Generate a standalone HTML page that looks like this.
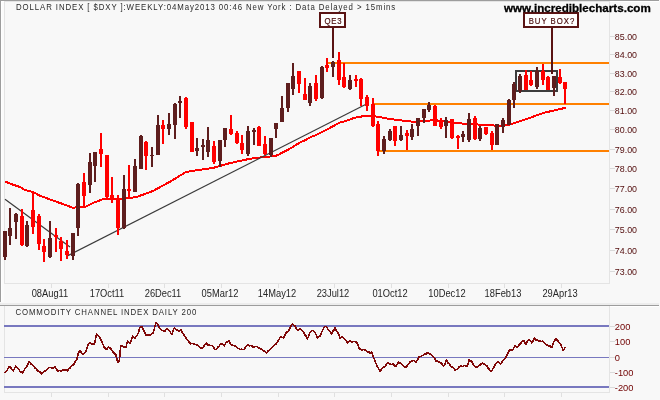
<!DOCTYPE html>
<html><head><meta charset="utf-8"><title>Dollar Index Weekly</title>
<style>
html,body{margin:0;padding:0;width:660px;height:400px;overflow:hidden;background:#f8f8f8}
svg{display:block}
text{font-family:"Liberation Sans",Arial,sans-serif}
</style></head><body>
<svg width="660" height="400" viewBox="0 0 660 400" shape-rendering="crispEdges">
<rect x="0" y="0" width="660" height="400" fill="#f8f8f8"/>
<rect x="0" y="0" width="659" height="1" fill="#9d9d9d"/>
<rect x="0" y="0" width="1" height="302" fill="#9d9d9d"/>
<rect x="1" y="1" width="658" height="1" fill="#ffffff"/>
<rect x="1" y="1" width="1" height="301" fill="#ffffff"/>
<rect x="2" y="2" width="2" height="300" fill="#fbfbfb"/>
<rect x="4" y="1" width="606" height="1" fill="#e4e4e4"/>
<rect x="4" y="1" width="1" height="283" fill="#e4e4e4"/>
<rect x="609" y="1" width="1" height="283" fill="#e4e4e4"/>
<rect x="4" y="283" width="606" height="1" fill="#e4e4e4"/>
<rect x="0" y="303" width="659" height="2" fill="#ededed"/>
<rect x="0" y="305" width="659" height="1" fill="#9d9d9d"/>
<rect x="610" y="306" width="49" height="1" fill="#ffffff"/>
<rect x="4" y="306" width="1" height="87" fill="#e4e4e4"/>
<rect x="609" y="306" width="1" height="87" fill="#e4e4e4"/>
<rect x="4" y="392" width="606" height="1" fill="#e4e4e4"/>
<rect x="51" y="284" width="1" height="4" fill="#e0e0e0"/>
<rect x="51" y="393" width="1" height="4" fill="#e0e0e0"/>
<rect x="108" y="284" width="1" height="4" fill="#e0e0e0"/>
<rect x="108" y="393" width="1" height="4" fill="#e0e0e0"/>
<rect x="164" y="284" width="1" height="4" fill="#e0e0e0"/>
<rect x="164" y="393" width="1" height="4" fill="#e0e0e0"/>
<rect x="221" y="284" width="1" height="4" fill="#e0e0e0"/>
<rect x="221" y="393" width="1" height="4" fill="#e0e0e0"/>
<rect x="278" y="284" width="1" height="4" fill="#e0e0e0"/>
<rect x="278" y="393" width="1" height="4" fill="#e0e0e0"/>
<rect x="334" y="284" width="1" height="4" fill="#e0e0e0"/>
<rect x="334" y="393" width="1" height="4" fill="#e0e0e0"/>
<rect x="391" y="284" width="1" height="4" fill="#e0e0e0"/>
<rect x="391" y="393" width="1" height="4" fill="#e0e0e0"/>
<rect x="448" y="284" width="1" height="4" fill="#e0e0e0"/>
<rect x="448" y="393" width="1" height="4" fill="#e0e0e0"/>
<rect x="504" y="284" width="1" height="4" fill="#e0e0e0"/>
<rect x="504" y="393" width="1" height="4" fill="#e0e0e0"/>
<rect x="561" y="284" width="1" height="4" fill="#e0e0e0"/>
<rect x="561" y="393" width="1" height="4" fill="#e0e0e0"/>
<rect x="610" y="271" width="5" height="1" fill="#dadada"/>
<rect x="610" y="250" width="5" height="1" fill="#dadada"/>
<rect x="610" y="229" width="5" height="1" fill="#dadada"/>
<rect x="610" y="209" width="5" height="1" fill="#dadada"/>
<rect x="610" y="188" width="5" height="1" fill="#dadada"/>
<rect x="610" y="168" width="5" height="1" fill="#dadada"/>
<rect x="610" y="149" width="5" height="1" fill="#dadada"/>
<rect x="610" y="129" width="5" height="1" fill="#dadada"/>
<rect x="610" y="110" width="5" height="1" fill="#dadada"/>
<rect x="610" y="91" width="5" height="1" fill="#dadada"/>
<rect x="610" y="73" width="5" height="1" fill="#dadada"/>
<rect x="610" y="54" width="5" height="1" fill="#dadada"/>
<rect x="610" y="36" width="5" height="1" fill="#dadada"/>
<rect x="610" y="326" width="5" height="1" fill="#dadada"/>
<rect x="610" y="341" width="5" height="1" fill="#dadada"/>
<rect x="610" y="357" width="5" height="1" fill="#dadada"/>
<rect x="610" y="372" width="5" height="1" fill="#dadada"/>
<rect x="610" y="387" width="5" height="1" fill="#dadada"/>
<rect x="4" y="325" width="605" height="2" fill="#7878bf"/>
<rect x="4" y="357" width="605" height="1" fill="#7878bf"/>
<rect x="4" y="386" width="605" height="2" fill="#7878bf"/>
<polyline points="5,373 6.7,371 7.95,368.65 9.2,366.8 10.45,367.31 11.7,368.8 13.3,371 14.55,368.71 15.8,366 17.5,367.7 18.75,369.1 20,371.7 21.25,372.25 22.5,372.7 23.75,370.56 25,368.8 26.7,367.2 27.95,363.83 29.2,361.7 30.8,363.8 32.05,364.66 33.3,365.5 35,368 36.1,368.45 37.2,370.11 38.3,371.3 39.43,371.53 40.57,372.39 41.7,373.8 42.95,372.44 44.2,371.3 45.45,370.96 46.7,369.7 47.8,368.34 48.9,367.65 50,367.2 51.25,367.93 52.5,368.3 53.75,368.13 55,366.7 56.25,368.96 57.5,371 58.75,370.61 60,370.5 61.25,371.04 62.5,369.62 63.75,370.63 65,370 66.25,370.21 67.5,371 68.75,369 70,368 71.1,366.36 72.2,365.53 73.3,364.7 74.43,363.48 75.57,360.92 76.7,359.7 78.3,353 80,350.5 81.1,352.01 82.2,353.49 83.3,354.7 84.55,352.82 85.8,351.3 86.93,348.6 88.07,345.15 89.2,343 90.45,342.78 91.7,343.8 92.95,343.84 94.2,344.7 95.45,339.5 96.7,333.8 97.8,335.1 98.9,336.34 100,338 101.7,341.3 102.95,344.37 104.2,347.2 105.45,348.38 106.7,349.7 108.3,347.2 109.55,347.72 110.8,348.8 112.05,350.91 113.3,352.2 114.55,353.73 115.8,354.7 117.5,361.7 119.2,361.7 120.8,345.5 122.05,345.74 123.3,346.7 124.55,347.3 125.8,347.7 127.5,341.3 128.75,342.59 130,343.8 131.25,340.58 132.5,336.3 133.75,337.47 135,338 136.25,336.05 137.5,334.7 138.75,331.62 140,327.2 141.7,326.3 143.3,329.7 144.55,332.07 145.8,335.5 147.05,334.99 148.3,334.7 149.55,335.06 150.8,334.7 152.05,333.36 153.3,333 154.55,327.98 155.8,323 157.05,323.6 158.3,325.5 159.55,327.84 160.8,329.7 161.93,330.5 163.07,330.67 164.2,331 165.3,330.79 166.4,329.27 167.5,328.8 168.75,330.32 170,331.3 171.7,334.7 172.95,331.48 174.2,328 175.45,328.96 176.7,329.7 177.95,330.44 179.2,331.3 180.8,329.7 182.05,332.23 183.3,333.8 184.55,336.37 185.8,337.7 187.05,339.31 188.3,341 189.55,342.63 190.8,343.8 192.05,343.18 193.3,343.8 194.55,344.33 195.8,344.3 197.05,345.11 198.3,345.5 199.55,347.44 200.8,348 202.05,348.05 203.3,347.2 204.37,345.5 205.43,344.24 206.5,343 207.4,344.49 208.3,345.5 209.43,344.83 210.57,345.45 211.7,345.5 212.8,346.44 213.9,347.76 215,349.7 216.7,349.3 217.8,347.15 218.9,346.61 220,344.7 221.25,343.73 222.5,343.8 224.2,346 225.8,343 226.93,341.98 228.07,341.51 229.2,341 230.45,343.77 231.7,345.5 232.72,345.04 233.75,345.68 234.78,345.94 235.8,346 236.93,347.47 238.07,348.31 239.2,348.8 240.3,349.61 241.4,349.09 242.5,349.7 244.2,349.3 245.3,347.65 246.4,346.04 247.5,344.7 248.6,345.5 249.7,345.87 250.8,345.5 252.05,346.11 253.3,347.7 255,346.3 256.1,346.31 257.2,346.86 258.3,347.7 259.43,347.86 260.57,348.75 261.7,349.3 262.95,350.27 264.2,351 265.45,351.67 266.7,353 267.95,351.06 269.2,350.5 270.45,348.99 271.7,347.7 272.8,346.52 273.9,345.79 275,344.7 276.1,343.93 277.2,342.17 278.3,340.5 279.55,338.42 280.8,336.3 282.05,337.31 283.3,338 284.43,336.31 285.57,333.51 286.7,332.2 287.95,331.51 289.2,329.7 290.8,326.3 292.5,323.8 293.75,325.29 295,326 296.25,328.52 297.5,330 298.75,329.82 300,328.8 301.25,329.65 302.5,330.8 303.75,332.76 305,335 306.25,336.34 307.5,338.8 308.75,335.69 310,332.2 311.7,330.5 312.95,330.29 314.2,331.3 315.3,332.93 316.4,335.36 317.5,338 318.75,336.68 320,336.3 321.25,333.18 322.5,330.5 323.75,327.77 325,326.3 326.1,326.73 327.2,328.08 328.3,329.7 329.43,330.51 330.57,332.24 331.7,333.8 332.8,331.2 333.9,330.46 335,328 336.25,330.26 337.5,332.2 338.75,334.61 340,338 341.25,337 342.5,336.7 343.75,337.99 345,339.7 346.25,341.01 347.5,342.7 348.75,341.32 350,341 351.1,341.59 352.2,341.89 353.3,341.3 354.43,341.55 355.57,341.88 356.7,342.2 357.95,344.92 359.2,348.8 360.45,348.84 361.7,350 362.95,349.63 364.2,349.7 365.45,350.17 366.7,351.3 367.8,352.33 368.9,351.96 370,353 371.7,352.2 373.3,357.2 374.55,359.43 375.8,363 377.05,366.13 378.3,368 380,371 381.1,369.94 382.2,368.31 383.3,367.7 384.55,366.66 385.8,365.5 387.05,363.59 388.3,363 389.55,363.69 390.8,364.3 392.05,364.72 393.3,363.8 394.55,365.76 395.8,366.7 397.05,364.72 398.3,362.2 399.4,362.52 400.5,363.5 401.5,363.96 402.5,364.8 403.6,365.78 404.7,367.7 406.1,366.98 407.5,365.5 408.75,363.75 410,361.9 411.1,361.82 412.2,360.73 413.3,360.5 414.55,360.96 415.8,362.2 416.93,360.67 418.07,358.95 419.2,356.3 420.3,356.53 421.4,356.2 422.5,355.5 423.75,355.1 425,353.8 426.1,353.87 427.2,352.88 428.3,353 429.55,353.67 430.8,354.3 432.05,355.3 433.3,356.7 434.55,358.19 435.8,361 437.05,360.69 438.3,361.7 439.55,361.89 440.8,362.7 441.77,363.56 442.73,365.37 443.7,366.3 445,363.79 446.3,360 447.27,361.19 448.23,363.15 449.2,363.8 450.3,365.62 451.4,366.7 452.5,367.2 453.75,368.41 455,370 456.25,369.46 457.5,369.7 458.6,367.62 459.7,366.3 461.1,366.08 462.5,366.7 463.75,365.69 465,365.5 466.25,365.92 467.5,366 469.2,359.7 470.45,361.06 471.7,361.3 472.95,363.88 474.2,365.5 475.45,366.57 476.7,367.7 477.95,366.81 479.2,365.5 480.45,364.82 481.7,363.3 482.95,363.22 484.2,364.3 485.45,365.12 486.7,365.5 487.95,367.97 489.2,369.3 490.25,370.9 491.3,371.7 492.3,370.2 493.3,368 494.55,365.87 495.8,363.8 497.05,362.3 498.3,361.7 499.55,363.15 500.8,363.8 502.05,361.92 503.3,360.5 504.55,359.27 505.8,357.2 507.05,355.26 508.3,352 510,349.7 511.25,349.95 512.5,350.5 513.75,347.86 515,345.5 516.7,347.2 517.95,346.58 519.2,344.7 520.45,343.76 521.7,342.2 522.7,340.89 523.7,340.5 524.75,342.08 525.8,344.7 527.5,341.3 529.2,339.3 530.45,340.66 531.7,343 532.95,341.07 534.2,338 535.45,339.68 536.7,340.5 537.8,340.17 538.9,341.29 540,341 541.25,341.67 542.5,341 543.75,342.62 545,343.8 546.25,344.44 547.5,345.5 548.75,345.82 550,346 551.7,347.7 553.3,342.7 554.3,340.88 555.3,339.42 556.3,338.8 557.3,340.71 558.3,341.3 559.55,343.21 560.8,344.7 562.05,347.64 563.3,350.5 564.3,349.21 565.3,346.7" fill="none" stroke="#800808" stroke-width="1.6" stroke-linejoin="round"/>
<rect x="328" y="62" width="281" height="2" fill="#ff8000"/>
<rect x="373" y="103" width="236" height="2" fill="#ff8000"/>
<rect x="379" y="150" width="230" height="2" fill="#ff8000"/>
<polyline points="5,181.5 13,184.7 20,187 25,190 33,192 40,195.7 52,200.2 64,204.4 72.7,207.8 80,206.8 86,206.6 93.3,202.9 102.4,199.3 117.6,199.3 120,199.2 136.5,197 153,191 169.5,182 186,172 196.5,170.3 213,167.9 229.5,163.2 246,159.6 256.5,157.8 272.5,156.3 277.5,155.3 282.5,152.5 288.75,149.4 295,145.6 300,142.5 305,140.3 310,137.4 317.5,134.4 325,130.6 332.5,126.5 340,122.4 346,121 354,117.9 363.2,116.2 372.3,116 381.4,117.4 390.5,119.1 399.5,120.3 403,120.6 411.3,121.5 419.5,121.5 427.8,120.6 436,120.3 446.5,121.7 463,123.6 479.5,124.6 496.5,125.7 503.5,125.7 511,124.2 529.5,118 537.8,114.8 546,112.3 552.9,110.7 566,107.7" fill="none" stroke="#ff0000" stroke-width="2" stroke-linejoin="round"/>
<line x1="5" y1="199.3" x2="70" y2="247" stroke="#3a3a3a" stroke-width="1.2" shape-rendering="auto"/>
<line x1="68" y1="255.6" x2="365.5" y2="104.5" stroke="#3a3a3a" stroke-width="1.2" shape-rendering="auto"/>
<rect x="516" y="71" width="41" height="20" fill="none" stroke="#3c3c3c" stroke-width="2"/>
<rect x="332" y="28" width="2" height="30" fill="#5a1414"/>
<rect x="551" y="28" width="2" height="46" fill="#5a1414"/>
<rect x="4" y="231" width="2" height="29" fill="#5e1e1e"/><rect x="3" y="231" width="4" height="26" fill="#5e1e1e"/><rect x="9" y="208" width="2" height="37" fill="#5e1e1e"/><rect x="8" y="228" width="4" height="8" fill="#5e1e1e"/><rect x="15" y="213" width="2" height="26" fill="#5e1e1e"/><rect x="14" y="214" width="4" height="8" fill="#5e1e1e"/><rect x="21" y="209" width="2" height="37" fill="#ff0000"/><rect x="20" y="216" width="4" height="29" fill="#ff0000"/><rect x="26" y="221" width="2" height="26" fill="#5e1e1e"/><rect x="25" y="225" width="4" height="21" fill="#5e1e1e"/><rect x="32" y="192" width="2" height="42" fill="#ff0000"/><rect x="31" y="210" width="4" height="17" fill="#ff0000"/><rect x="38" y="214" width="2" height="36" fill="#ff0000"/><rect x="37" y="216" width="4" height="28" fill="#ff0000"/><rect x="43" y="239" width="2" height="23" fill="#ff0000"/><rect x="42" y="246" width="4" height="6" fill="#ff0000"/><rect x="49" y="221" width="2" height="37" fill="#5e1e1e"/><rect x="48" y="238" width="4" height="19" fill="#5e1e1e"/><rect x="55" y="228" width="2" height="24" fill="#ff0000"/><rect x="54" y="235" width="4" height="2" fill="#ff0000"/><rect x="60" y="237" width="2" height="24" fill="#ff0000"/><rect x="59" y="241" width="4" height="8" fill="#ff0000"/><rect x="66" y="240" width="2" height="19" fill="#ff0000"/><rect x="65" y="251" width="4" height="4" fill="#ff0000"/><rect x="72" y="233" width="2" height="27" fill="#5e1e1e"/><rect x="71" y="233" width="4" height="23" fill="#5e1e1e"/><rect x="77" y="183" width="2" height="53" fill="#5e1e1e"/><rect x="76" y="184" width="4" height="44" fill="#5e1e1e"/><rect x="83" y="173" width="2" height="34" fill="#ff0000"/><rect x="82" y="182" width="4" height="14" fill="#ff0000"/><rect x="89" y="153" width="2" height="40" fill="#5e1e1e"/><rect x="88" y="162" width="4" height="23" fill="#5e1e1e"/><rect x="94" y="152" width="2" height="30" fill="#5e1e1e"/><rect x="93" y="152" width="4" height="14" fill="#5e1e1e"/><rect x="100" y="133" width="2" height="34" fill="#ff0000"/><rect x="99" y="149" width="4" height="5" fill="#ff0000"/><rect x="106" y="155" width="2" height="43" fill="#ff0000"/><rect x="105" y="155" width="4" height="42" fill="#ff0000"/><rect x="111" y="177" width="2" height="26" fill="#ff0000"/><rect x="110" y="195" width="4" height="5" fill="#ff0000"/><rect x="117" y="195" width="2" height="40" fill="#ff0000"/><rect x="116" y="198" width="4" height="30" fill="#ff0000"/><rect x="123" y="175" width="2" height="54" fill="#5e1e1e"/><rect x="122" y="189" width="4" height="39" fill="#5e1e1e"/><rect x="128" y="165" width="2" height="33" fill="#ff0000"/><rect x="127" y="189" width="4" height="2" fill="#ff0000"/><rect x="134" y="159" width="2" height="33" fill="#5e1e1e"/><rect x="133" y="166" width="4" height="26" fill="#5e1e1e"/><rect x="140" y="135" width="2" height="34" fill="#5e1e1e"/><rect x="139" y="136" width="4" height="33" fill="#5e1e1e"/><rect x="145" y="141" width="2" height="29" fill="#ff0000"/><rect x="144" y="142" width="4" height="14" fill="#ff0000"/><rect x="151" y="147" width="2" height="20" fill="#5e1e1e"/><rect x="150" y="155" width="4" height="1" fill="#5e1e1e"/><rect x="157" y="115" width="2" height="40" fill="#5e1e1e"/><rect x="156" y="125" width="4" height="30" fill="#5e1e1e"/><rect x="162" y="120" width="2" height="24" fill="#ff0000"/><rect x="161" y="125" width="4" height="4" fill="#ff0000"/><rect x="168" y="113" width="2" height="22" fill="#5e1e1e"/><rect x="167" y="124" width="4" height="5" fill="#5e1e1e"/><rect x="174" y="103" width="2" height="36" fill="#5e1e1e"/><rect x="173" y="104" width="4" height="21" fill="#5e1e1e"/><rect x="179" y="96" width="2" height="22" fill="#5e1e1e"/><rect x="178" y="101" width="4" height="2" fill="#5e1e1e"/><rect x="185" y="97" width="2" height="32" fill="#ff0000"/><rect x="184" y="98" width="4" height="29" fill="#ff0000"/><rect x="191" y="122" width="2" height="30" fill="#ff0000"/><rect x="190" y="122" width="4" height="30" fill="#ff0000"/><rect x="196" y="138" width="2" height="18" fill="#5e1e1e"/><rect x="195" y="148" width="4" height="3" fill="#5e1e1e"/><rect x="202" y="139" width="2" height="21" fill="#5e1e1e"/><rect x="201" y="145" width="4" height="2" fill="#5e1e1e"/><rect x="207" y="127" width="2" height="30" fill="#5e1e1e"/><rect x="206" y="140" width="4" height="12" fill="#5e1e1e"/><rect x="213" y="141" width="2" height="23" fill="#ff0000"/><rect x="212" y="146" width="4" height="16" fill="#ff0000"/><rect x="219" y="140" width="2" height="27" fill="#5e1e1e"/><rect x="218" y="140" width="4" height="21" fill="#5e1e1e"/><rect x="224" y="128" width="2" height="19" fill="#5e1e1e"/><rect x="223" y="128" width="4" height="12" fill="#5e1e1e"/><rect x="230" y="115" width="2" height="20" fill="#ff0000"/><rect x="229" y="129" width="4" height="5" fill="#ff0000"/><rect x="236" y="131" width="2" height="13" fill="#ff0000"/><rect x="235" y="133" width="4" height="10" fill="#ff0000"/><rect x="241" y="135" width="2" height="19" fill="#ff0000"/><rect x="240" y="143" width="4" height="7" fill="#ff0000"/><rect x="247" y="126" width="2" height="30" fill="#5e1e1e"/><rect x="246" y="131" width="4" height="23" fill="#5e1e1e"/><rect x="253" y="128" width="2" height="17" fill="#5e1e1e"/><rect x="252" y="130" width="4" height="2" fill="#5e1e1e"/><rect x="258" y="126" width="2" height="20" fill="#ff0000"/><rect x="257" y="127" width="4" height="19" fill="#ff0000"/><rect x="264" y="136" width="2" height="19" fill="#ff0000"/><rect x="263" y="144" width="4" height="10" fill="#ff0000"/><rect x="270" y="138" width="2" height="19" fill="#5e1e1e"/><rect x="269" y="138" width="4" height="17" fill="#5e1e1e"/><rect x="275" y="123" width="2" height="15" fill="#5e1e1e"/><rect x="274" y="123" width="4" height="6" fill="#5e1e1e"/><rect x="281" y="96" width="2" height="26" fill="#5e1e1e"/><rect x="280" y="108" width="4" height="14" fill="#5e1e1e"/><rect x="287" y="83" width="2" height="29" fill="#5e1e1e"/><rect x="286" y="83" width="4" height="25" fill="#5e1e1e"/><rect x="292" y="63" width="2" height="32" fill="#5e1e1e"/><rect x="291" y="76" width="4" height="13" fill="#5e1e1e"/><rect x="298" y="71" width="2" height="22" fill="#ff0000"/><rect x="297" y="71" width="4" height="13" fill="#ff0000"/><rect x="304" y="78" width="2" height="22" fill="#ff0000"/><rect x="303" y="94" width="4" height="6" fill="#ff0000"/><rect x="309" y="83" width="2" height="23" fill="#5e1e1e"/><rect x="308" y="86" width="4" height="17" fill="#5e1e1e"/><rect x="315" y="75" width="2" height="26" fill="#ff0000"/><rect x="314" y="83" width="4" height="16" fill="#ff0000"/><rect x="321" y="66" width="2" height="33" fill="#5e1e1e"/><rect x="320" y="67" width="4" height="31" fill="#5e1e1e"/><rect x="326" y="58" width="2" height="14" fill="#ff0000"/><rect x="325" y="65" width="4" height="3" fill="#ff0000"/><rect x="332" y="61" width="2" height="16" fill="#5e1e1e"/><rect x="331" y="62" width="4" height="5" fill="#5e1e1e"/><rect x="338" y="52" width="2" height="33" fill="#ff0000"/><rect x="337" y="60" width="4" height="20" fill="#ff0000"/><rect x="343" y="63" width="2" height="25" fill="#ff0000"/><rect x="342" y="77" width="4" height="10" fill="#ff0000"/><rect x="349" y="75" width="2" height="15" fill="#5e1e1e"/><rect x="348" y="80" width="4" height="9" fill="#5e1e1e"/><rect x="355" y="75" width="2" height="12" fill="#ff0000"/><rect x="354" y="79" width="4" height="2" fill="#ff0000"/><rect x="360" y="78" width="2" height="28" fill="#ff0000"/><rect x="359" y="79" width="4" height="20" fill="#ff0000"/><rect x="366" y="95" width="2" height="16" fill="#ff0000"/><rect x="365" y="97" width="4" height="9" fill="#ff0000"/><rect x="372" y="98" width="2" height="29" fill="#ff0000"/><rect x="371" y="104" width="4" height="22" fill="#ff0000"/><rect x="377" y="121" width="2" height="35" fill="#ff0000"/><rect x="376" y="124" width="4" height="27" fill="#ff0000"/><rect x="383" y="136" width="2" height="18" fill="#5e1e1e"/><rect x="382" y="139" width="4" height="12" fill="#5e1e1e"/><rect x="389" y="129" width="2" height="12" fill="#5e1e1e"/><rect x="388" y="131" width="4" height="9" fill="#5e1e1e"/><rect x="394" y="126" width="2" height="20" fill="#ff0000"/><rect x="393" y="126" width="4" height="15" fill="#ff0000"/><rect x="400" y="126" width="2" height="15" fill="#5e1e1e"/><rect x="399" y="135" width="4" height="5" fill="#5e1e1e"/><rect x="406" y="130" width="2" height="20" fill="#ff0000"/><rect x="405" y="133" width="4" height="3" fill="#ff0000"/><rect x="411" y="124" width="2" height="16" fill="#5e1e1e"/><rect x="410" y="129" width="4" height="8" fill="#5e1e1e"/><rect x="417" y="118" width="2" height="18" fill="#5e1e1e"/><rect x="416" y="118" width="4" height="8" fill="#5e1e1e"/><rect x="423" y="109" width="2" height="14" fill="#5e1e1e"/><rect x="422" y="109" width="4" height="9" fill="#5e1e1e"/><rect x="428" y="102" width="2" height="10" fill="#5e1e1e"/><rect x="427" y="105" width="4" height="5" fill="#5e1e1e"/><rect x="434" y="105" width="2" height="21" fill="#ff0000"/><rect x="433" y="106" width="4" height="20" fill="#ff0000"/><rect x="440" y="118" width="2" height="11" fill="#ff0000"/><rect x="439" y="122" width="4" height="5" fill="#ff0000"/><rect x="445" y="117" width="2" height="21" fill="#5e1e1e"/><rect x="444" y="120" width="4" height="6" fill="#5e1e1e"/><rect x="451" y="119" width="2" height="20" fill="#ff0000"/><rect x="450" y="119" width="4" height="19" fill="#ff0000"/><rect x="457" y="135" width="2" height="14" fill="#ff0000"/><rect x="456" y="136" width="4" height="2" fill="#ff0000"/><rect x="462" y="131" width="2" height="11" fill="#5e1e1e"/><rect x="461" y="134" width="4" height="3" fill="#5e1e1e"/><rect x="468" y="113" width="2" height="29" fill="#5e1e1e"/><rect x="467" y="119" width="4" height="21" fill="#5e1e1e"/><rect x="474" y="116" width="2" height="24" fill="#ff0000"/><rect x="473" y="118" width="4" height="21" fill="#ff0000"/><rect x="479" y="126" width="2" height="15" fill="#5e1e1e"/><rect x="478" y="128" width="4" height="11" fill="#5e1e1e"/><rect x="485" y="127" width="2" height="8" fill="#ff0000"/><rect x="484" y="127" width="4" height="7" fill="#ff0000"/><rect x="491" y="131" width="2" height="19" fill="#ff0000"/><rect x="490" y="133" width="4" height="12" fill="#ff0000"/><rect x="496" y="124" width="2" height="21" fill="#5e1e1e"/><rect x="495" y="124" width="4" height="21" fill="#5e1e1e"/><rect x="502" y="118" width="2" height="15" fill="#5e1e1e"/><rect x="501" y="120" width="4" height="7" fill="#5e1e1e"/><rect x="508" y="99" width="2" height="26" fill="#5e1e1e"/><rect x="507" y="100" width="4" height="25" fill="#5e1e1e"/><rect x="513" y="82" width="2" height="26" fill="#5e1e1e"/><rect x="512" y="84" width="4" height="16" fill="#5e1e1e"/><rect x="519" y="74" width="2" height="19" fill="#5e1e1e"/><rect x="518" y="76" width="4" height="15" fill="#5e1e1e"/><rect x="525" y="70" width="2" height="20" fill="#ff0000"/><rect x="524" y="75" width="4" height="15" fill="#ff0000"/><rect x="530" y="71" width="2" height="15" fill="#ff0000"/><rect x="529" y="80" width="4" height="5" fill="#ff0000"/><rect x="536" y="67" width="2" height="22" fill="#5e1e1e"/><rect x="535" y="71" width="4" height="16" fill="#5e1e1e"/><rect x="542" y="64" width="2" height="21" fill="#ff0000"/><rect x="541" y="71" width="4" height="9" fill="#ff0000"/><rect x="547" y="76" width="2" height="14" fill="#ff0000"/><rect x="546" y="77" width="4" height="13" fill="#ff0000"/><rect x="553" y="76" width="2" height="20" fill="#5e1e1e"/><rect x="552" y="76" width="4" height="12" fill="#5e1e1e"/><rect x="559" y="69" width="2" height="15" fill="#ff0000"/><rect x="558" y="77" width="4" height="6" fill="#ff0000"/><rect x="564" y="82" width="2" height="22" fill="#ff0000"/><rect x="563" y="82" width="4" height="7" fill="#ff0000"/>
<rect x="320" y="13" width="25" height="14" fill="#ffffff" stroke="#5a1414" stroke-width="2"/>
<rect x="524" y="13" width="54" height="14" fill="#ffffff" stroke="#5a1414" stroke-width="2"/>
<g shape-rendering="auto">
<text transform="translate(16 9.7) scale(0.8 1)" x="0" y="0" font-size="9.8" fill="#2a2a2a" textLength="474" lengthAdjust="spacing">DOLLAR INDEX [ $DXY ]:WEEKLY:04May2013 00:46 New York : Data Delayed &gt; 15mins</text>
<text x="504" y="11.6" font-size="11.6" font-weight="bold" fill="#000000" stroke="#000000" stroke-width="0.3" textLength="146.8" lengthAdjust="spacingAndGlyphs">www.incrediblecharts.com</text>
<text transform="translate(324.6 23.8) scale(0.82 1)" x="0" y="0" font-size="9.5" fill="#4a0c0c" stroke="#4a0c0c" stroke-width="0.2" textLength="20.6" lengthAdjust="spacing">QE3</text>
<text transform="translate(528.7 23.8) scale(0.8 1)" x="0" y="0" font-size="9.7" fill="#4a0c0c" stroke="#4a0c0c" stroke-width="0.2" textLength="57" lengthAdjust="spacing">BUY BOX?</text>
<text x="614.8" y="275" font-size="9.6" fill="#520c0c" textLength="22.2" lengthAdjust="spacingAndGlyphs">73.00</text>
<text x="614.8" y="254" font-size="9.6" fill="#520c0c" textLength="22.2" lengthAdjust="spacingAndGlyphs">74.00</text>
<text x="614.8" y="233" font-size="9.6" fill="#520c0c" textLength="22.2" lengthAdjust="spacingAndGlyphs">75.00</text>
<text x="614.8" y="213" font-size="9.6" fill="#520c0c" textLength="22.2" lengthAdjust="spacingAndGlyphs">76.00</text>
<text x="614.8" y="192" font-size="9.6" fill="#520c0c" textLength="22.2" lengthAdjust="spacingAndGlyphs">77.00</text>
<text x="614.8" y="172" font-size="9.6" fill="#520c0c" textLength="22.2" lengthAdjust="spacingAndGlyphs">78.00</text>
<text x="614.8" y="153" font-size="9.6" fill="#520c0c" textLength="22.2" lengthAdjust="spacingAndGlyphs">79.00</text>
<text x="614.8" y="133" font-size="9.6" fill="#520c0c" textLength="22.2" lengthAdjust="spacingAndGlyphs">80.00</text>
<text x="614.8" y="114" font-size="9.6" fill="#520c0c" textLength="22.2" lengthAdjust="spacingAndGlyphs">81.00</text>
<text x="614.8" y="95" font-size="9.6" fill="#520c0c" textLength="22.2" lengthAdjust="spacingAndGlyphs">82.00</text>
<text x="614.8" y="77" font-size="9.6" fill="#520c0c" textLength="22.2" lengthAdjust="spacingAndGlyphs">83.00</text>
<text x="614.8" y="58" font-size="9.6" fill="#520c0c" textLength="22.2" lengthAdjust="spacingAndGlyphs">84.00</text>
<text x="614.8" y="40" font-size="9.6" fill="#520c0c" textLength="22.2" lengthAdjust="spacingAndGlyphs">85.00</text>
<text x="31.70" y="297.2" font-size="10.2" fill="#262626" textLength="36.59" lengthAdjust="spacingAndGlyphs">08Aug11</text>
<text x="89.74" y="297.2" font-size="10.2" fill="#262626" textLength="34.52" lengthAdjust="spacingAndGlyphs">17Oct11</text>
<text x="144.71" y="297.2" font-size="10.2" fill="#262626" textLength="36.58" lengthAdjust="spacingAndGlyphs">26Dec11</text>
<text x="201.62" y="297.2" font-size="10.2" fill="#262626" textLength="36.75" lengthAdjust="spacingAndGlyphs">05Mar12</text>
<text x="257.85" y="297.2" font-size="10.2" fill="#262626" textLength="38.31" lengthAdjust="spacingAndGlyphs">14May12</text>
<text x="316.69" y="297.2" font-size="10.2" fill="#262626" textLength="32.61" lengthAdjust="spacingAndGlyphs">23Jul12</text>
<text x="372.40" y="297.2" font-size="10.2" fill="#262626" textLength="35.20" lengthAdjust="spacingAndGlyphs">01Oct12</text>
<text x="428.37" y="297.2" font-size="10.2" fill="#262626" textLength="37.27" lengthAdjust="spacingAndGlyphs">10Dec12</text>
<text x="484.62" y="297.2" font-size="10.2" fill="#262626" textLength="36.77" lengthAdjust="spacingAndGlyphs">18Feb13</text>
<text x="542.40" y="297.2" font-size="10.2" fill="#262626" textLength="35.20" lengthAdjust="spacingAndGlyphs">29Apr13</text>
<text transform="translate(15.5 314.9) scale(0.8 1)" x="0" y="0" font-size="9.8" fill="#2a2a2a" textLength="226" lengthAdjust="spacing">COMMODITY CHANNEL INDEX DAILY 200</text>
<text x="614.8" y="330" font-size="9.3" fill="#700000">200</text>
<text x="614.8" y="345" font-size="9.3" fill="#700000">100</text>
<text x="614.8" y="361" font-size="9.3" fill="#700000">0</text>
<text x="614.8" y="376" font-size="9.3" fill="#700000">-100</text>
<text x="614.8" y="391" font-size="9.3" fill="#700000">-200</text>
</g>
</svg>
</body></html>
